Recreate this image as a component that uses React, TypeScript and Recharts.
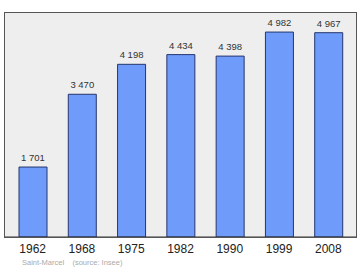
import React from "react";
import { BarChart, Bar, XAxis, YAxis, CartesianGrid, LabelList } from "recharts";

const years = ["1962", "1968", "1975", "1982", "1990", "1999", "2008"];
const population = [1701, 3470, 4198, 4434, 4398, 4982, 4967];
const yMax = 5470;

const data = years.map((year, i) => ({ year, pop: population[i] }));

// non-breaking space as thousands separator so labels do not wrap
const fmt = (v: number) => String(v).replace(/\B(?=(\d{3})+(?!\d))/g, "\u00a0");

export default function App() {
  return (
    <div style={{ position: "absolute", left: 0, top: 0, width: 360, height: 270, background: "#fff" }}>
      <BarChart
        width={360}
        height={270}
        data={data}
        margin={{ top: 12, right: 3, bottom: 0, left: 4 }}
      >
        <CartesianGrid horizontal={false} vertical={false} fill="#eeeeee" />
        <XAxis
          dataKey="year"
          height={33}
          axisLine={{ stroke: "#333" }}
          tickLine={false}
          tickMargin={1}
          padding={{ left: 4, right: 4 }}
          tick={{ fontSize: 12, fill: "#222", fontFamily: "Liberation Sans, Arial, sans-serif" }}
        />
        <YAxis width={0} domain={[0, yMax]} axisLine={false} tick={false} tickLine={false} />
        <Bar
          dataKey="pop"
          barSize={28}
          fill="#6f9bfb"
          stroke="#25356e"
          strokeWidth={1}
          isAnimationActive={false}
        >
          <LabelList
            dataKey="pop"
            position="top"
            offset={6}
            formatter={(v: any) => fmt(Number(v))}
            style={{ fontSize: 9.5, fill: "#333", fontFamily: "Liberation Sans, Arial, sans-serif" }}
          />
        </Bar>
      </BarChart>
      <div
        style={{
          position: "absolute",
          left: 4,
          top: 12,
          width: 353,
          height: 226,
          boxSizing: "border-box",
          border: "1px solid #555",
          pointerEvents: "none",
        }}
      />
      <div
        style={{
          position: "absolute",
          left: 22,
          top: 258,
          fontSize: 7.5,
          color: "#aaa",
          fontFamily: "Liberation Sans, Arial, sans-serif",
          whiteSpace: "pre",
        }}
      >
        {"Saint-Marcel    (source: Insee)"}
      </div>
    </div>
  );
}
